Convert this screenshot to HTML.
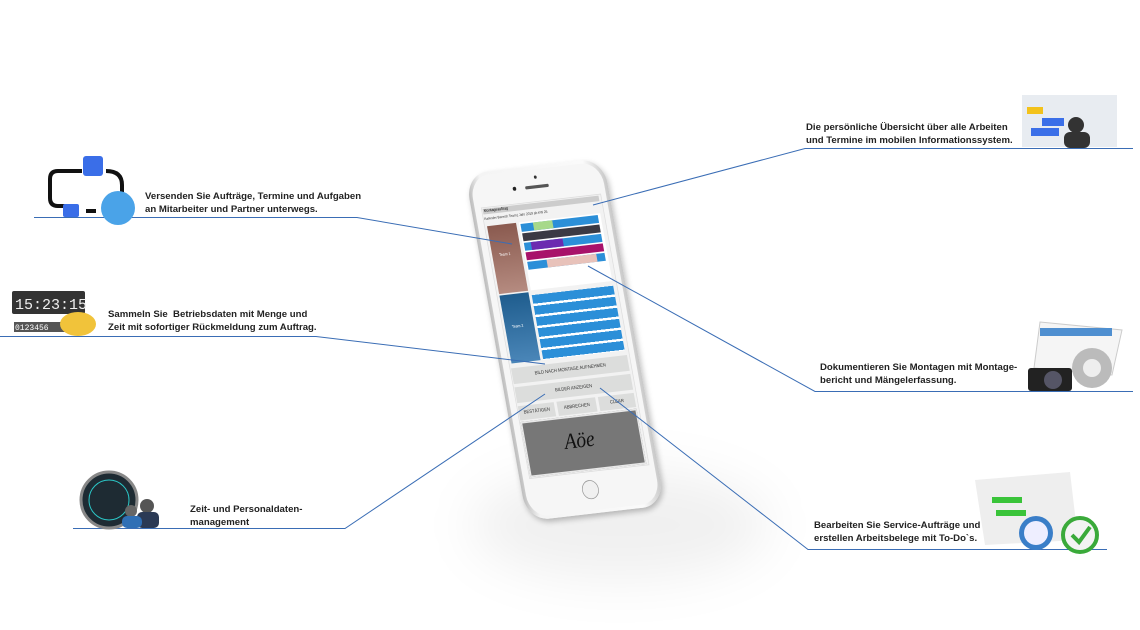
<!DOCTYPE html>
<html><head><meta charset="utf-8"><style>
body{margin:0;width:1140px;height:630px;background:#fff;position:relative;overflow:hidden;font-family:"Liberation Sans",Arial,sans-serif}
.t{position:absolute;font-size:9.6px;font-weight:bold;color:#222;line-height:13px;white-space:nowrap}
svg{position:absolute;left:0;top:0}
#phone{position:absolute;left:0;top:0;width:200px;height:440px;transform-origin:0 0;transform:matrix(0.69,-0.08,0.141,0.789,465,174)}
.s{position:absolute}
.btn{position:absolute;background:#dcdddc;font-size:6px;color:#333;text-align:center}
</style></head><body>
<div style="position:absolute;left:470px;top:470px;width:300px;height:110px;border-radius:50%;background:rgba(0,0,0,0.06);filter:blur(25px)"></div>
<div id="phone">
 <div class="s" style="left:0;top:0;width:200px;height:440px;border-radius:32px;background:linear-gradient(90deg,#bdbdbd,#f4f4f4 10%,#fafafa 85%,#c8c8c8);box-shadow:2px 4px 8px rgba(0,0,0,.25)"></div>
 <div class="s" style="left:5px;top:4px;width:190px;height:432px;border-radius:28px;background:#f6f6f6"></div>
 <div class="s" style="left:82px;top:24px;width:34px;height:4px;border-radius:2px;background:#555"></div>
 <div class="s" style="left:64px;top:23px;width:5px;height:5px;border-radius:3px;background:#222"></div>
 <div class="s" style="left:97px;top:12px;width:4px;height:4px;border-radius:2px;background:#333"></div>
 <div class="s" style="left:14px;top:44px;width:172px;height:342px;background:#f2f2f2;border:1px solid #ddd"></div>
 <div class="s" style="left:16px;top:46px;width:168px;height:7px;background:#ccc;font-size:5px;line-height:7px">&nbsp;Montageauftrag</div>
 <div class="s" style="left:16px;top:56px;width:168px;height:8px;font-size:4.5px;color:#333">Kalender Bereich Team1 Jahr 2019 ab KW 25</div>
 <div class="s" style="left:18px;top:68px;width:42px;height:86px;background:linear-gradient(#8a5a4f,#b58b80)"><span style="position:absolute;left:10px;top:35px;font-size:5px;color:#fff">Team 1</span></div>
 <div class="s" style="left:18px;top:156px;width:42px;height:86px;background:linear-gradient(#1f5d8e,#4a86b8)"><span style="position:absolute;left:10px;top:38px;font-size:5px;color:#fff">Team 2</span></div>
 <div class="s" style="left:64px;top:68px;width:118px;height:86px;background:#fff">
  <div class="s" style="left:2px;top:2px;width:112px;height:10px;background:#2b8fd8"></div>
  <div class="s" style="left:20px;top:2px;width:28px;height:10px;background:#a7d98a"></div>
  <div class="s" style="left:2px;top:14px;width:112px;height:10px;background:#3b3a44"></div>
  <div class="s" style="left:2px;top:26px;width:112px;height:10px;background:#2b8fd8"></div>
  <div class="s" style="left:12px;top:26px;width:46px;height:10px;background:#6b2bb0"></div>
  <div class="s" style="left:2px;top:38px;width:112px;height:10px;background:#a8126a"></div>
  <div class="s" style="left:2px;top:50px;width:112px;height:10px;background:#2b8fd8"></div>
  <div class="s" style="left:30px;top:50px;width:72px;height:10px;background:#e8c2ba"></div>
 </div>
 <div class="s" style="left:64px;top:160px;width:118px;height:82px;background:repeating-linear-gradient(#2b8fd8 0 11px,#fff 11px 14px)"></div>
 <div class="btn" style="left:16px;top:248px;width:168px;height:20px;line-height:20px">BILD NACH MONTAGE AUFNEHMEN</div>
 <div class="btn" style="left:16px;top:272px;width:168px;height:20px;line-height:20px">BILDER ANZEIGEN</div>
 <div class="btn" style="left:16px;top:296px;width:52px;height:18px;line-height:18px">BESTÄTIGEN</div>
 <div class="btn" style="left:72px;top:296px;width:56px;height:18px;line-height:18px">ABBRECHEN</div>
 <div class="btn" style="left:132px;top:296px;width:52px;height:18px;line-height:18px">CLEAR</div>
 <div class="s" style="left:16px;top:316px;width:168px;height:70px;background:#777;border:2px solid #e8e8e8;box-sizing:border-box"><span style="position:absolute;left:55px;top:14px;font:italic 28px 'Liberation Serif',serif;color:#111">Aöe</span></div>
 <div class="s" style="left:86px;top:398px;width:22px;height:22px;border-radius:50%;border:1.5px solid #999;background:#f0f0f0"></div>
</div>
<svg width="1140" height="630" fill="none" stroke="#3a6db5" stroke-width="1">
 <polyline points="34,217.5 357,217.5 512,244"/>
 <polyline points="0,336.5 316,336.5 545,364"/>
 <polyline points="1133,148.5 805,148.5 593,205"/>
 <polyline points="1133,391.5 815,391.5 588,266"/>
 <polyline points="1107,549.5 808,549.5 600,388"/>
 <polyline points="73,528.5 345,528.5 545,394"/>
</svg>
<svg width="1140" height="630">
 <path d="M82,171 L58,171 Q50,171 50,179 L50,198 Q50,206 58,206 L66,206" stroke="#111" stroke-width="4" fill="none"/>
 <path d="M106,171 Q122,171 122,185 L122,196" stroke="#111" stroke-width="4" fill="none"/>
 <rect x="83" y="156" width="20" height="20" rx="3" fill="#3a6ee8"/>
 <rect x="63" y="204" width="16" height="13" rx="2" fill="#3a6ee8"/>
 <path d="M86,211 L96,211" stroke="#111" stroke-width="4"/>
 <circle cx="118" cy="208" r="17" fill="#4aa3e8"/>
 <rect x="12" y="291" width="73" height="23" rx="2" fill="#333"/>
 <text x="15" y="309" font-family="Liberation Mono" font-size="15" fill="#eee">15:23:15</text>
 <rect x="14" y="322" width="52" height="10" fill="#555"/>
 <text x="15" y="330" font-family="Liberation Mono" font-size="8" fill="#fff">0123456</text>
 <ellipse cx="78" cy="324" rx="18" ry="12" fill="#f1c33a"/>
 <rect x="1022" y="95" width="95" height="52" fill="#e8ecf1"/>
 <rect x="1027" y="107" width="16" height="7" fill="#f3c21b"/>
 <rect x="1042" y="118" width="22" height="8" fill="#3b6fe8"/>
 <rect x="1031" y="128" width="28" height="8" fill="#3b6fe8"/>
 <circle cx="1076" cy="125" r="8" fill="#333"/><rect x="1064" y="132" width="26" height="16" rx="6" fill="#333"/>
 <polygon points="1040,322 1122,330 1112,375 1034,368" fill="#f5f5f5" stroke="#ccc"/>
 <rect x="1040" y="328" width="72" height="8" fill="#4f8fd0"/>
 <rect x="1028" y="368" width="44" height="23" rx="3" fill="#222"/><circle cx="1053" cy="380" r="9" fill="#556"/>
 <circle cx="1092" cy="368" r="20" fill="#bbb"/><circle cx="1092" cy="368" r="9" fill="#eee"/>
 <polygon points="975,480 1070,472 1078,540 985,545" fill="#eee"/>
 <rect x="992" y="497" width="30" height="6" fill="#3ac43a"/><rect x="996" y="510" width="30" height="6" fill="#3ac43a"/>
 <circle cx="1036" cy="533" r="17" fill="#3a7ec8"/><circle cx="1036" cy="533" r="12" fill="#eef"/>
 <circle cx="1080" cy="535" r="17" fill="#f3f3f3" stroke="#3aaa3a" stroke-width="4"/>
 <path d="M1072,535 L1079,542 L1090,527" stroke="#3aaa3a" stroke-width="4" fill="none"/>
 <circle cx="109" cy="500" r="28" fill="#1e2b33" stroke="#888" stroke-width="3"/>
 <circle cx="109" cy="500" r="20" fill="none" stroke="#2bc6c6" stroke-width="1"/>
 <circle cx="147" cy="506" r="7" fill="#555"/><rect x="137" y="512" width="22" height="16" rx="5" fill="#2b3a55"/>
 <circle cx="131" cy="511" r="6" fill="#666"/><rect x="122" y="516" width="20" height="12" rx="5" fill="#2f6fb5"/>
</svg>
<div class="t" style="left:145px;top:190px">Versenden Sie Aufträge, Termine und Aufgaben<br>an Mitarbeiter und Partner unterwegs.</div>
<div class="t" style="left:108px;top:308px">Sammeln Sie &nbsp;Betriebsdaten mit Menge und<br>Zeit mit sofortiger Rückmeldung zum Auftrag.</div>
<div class="t" style="left:806px;top:121px">Die persönliche Übersicht über alle Arbeiten<br>und Termine im mobilen Informationssystem.</div>
<div class="t" style="left:820px;top:361px">Dokumentieren Sie Montagen mit Montage-<br>bericht und Mängelerfassung.</div>
<div class="t" style="left:190px;top:503px">Zeit- und Personaldaten-<br>management</div>
<div class="t" style="left:814px;top:519px">Bearbeiten Sie Service-Aufträge und<br>erstellen Arbeitsbelege mit To-Do`s.</div>
</body></html>
